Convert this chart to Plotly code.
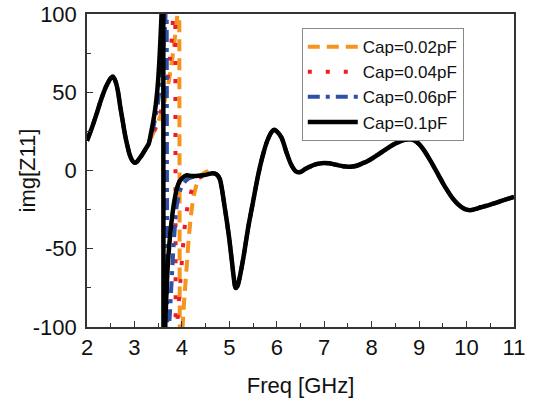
import plotly.graph_objects as go

# ---------------- data ----------------
# common part below the resonance (all four curves overlap)
freq_low = [2.0, 2.1, 2.2, 2.3, 2.4, 2.5, 2.55, 2.6, 2.65, 2.7, 2.75, 2.8, 2.85,
            2.9, 2.95, 3.0, 3.05, 3.1, 3.15, 3.2, 3.25]
img_low = [19, 27, 36, 45.5, 53.5, 59, 60, 57, 51, 41, 32, 23, 16,
           10, 6.5, 5, 5.5, 7.5, 9.5, 12, 14.5]

# common part above the resonance
freq_high = [4.65, 4.7, 4.75, 4.8, 4.85, 4.9, 4.95, 5.0, 5.05, 5.1, 5.13, 5.17, 5.22,
             5.3, 5.4, 5.5, 5.6, 5.7, 5.8, 5.9, 5.95, 6.0, 6.1, 6.2, 6.3, 6.4, 6.5,
             6.6, 6.7, 6.8, 6.9, 7.0, 7.1, 7.2, 7.3, 7.4, 7.5, 7.6, 7.7, 7.8, 7.9,
             8.0, 8.1, 8.2, 8.3, 8.4, 8.5, 8.6, 8.7, 8.8, 8.9, 9.0, 9.1, 9.2, 9.3,
             9.4, 9.5, 9.6, 9.7, 9.8, 9.9, 10.0, 10.1, 10.2, 10.3, 10.4, 10.5, 10.6,
             10.7, 10.8, 10.9, 11.0]
img_high = [-1.8, -2, -3, -5.5, -13, -23, -33, -44, -57, -70, -75, -74, -68,
            -55, -36, -20, -4, 9, 19, 25, 26, 25, 21, 12, 4, -0.5, -1,
            1, 2.5, 3.8, 4.5, 4.8, 4.6, 4, 3.3, 2.7, 2.4, 2.5, 3.2, 4.5, 5.8,
            7.5, 9.5, 11.5, 13.5, 15.5, 17.2, 18.6, 19.6, 20, 19.2, 16.8, 13, 8.2, 3,
            -2.5, -8, -13, -17.5, -21, -23.5, -25, -25.3, -24.5, -23.5, -22.7, -21.8, -20.8,
            -19.8, -18.8, -17.8, -16.8]

# resonance region, per capacitance
freq_002 = [3.3, 3.35, 3.4, 3.45, 3.5, 3.55, 3.6, 3.65, 3.7, 3.75, 3.8, 3.85, 3.9, 3.93,
            3.97, 4.0, 4.03, 4.06, 4.1, 4.14, 4.18, 4.22, 4.26, 4.3, 4.35, 4.4, 4.45,
            4.5, 4.55, 4.6]
img_002 = [17, 21, 24, 27, 31, 35, 40, 46, 53, 62, 72, 84, 98, 300,
           -300, -110, -92, -78, -62, -45, -32, -22, -15, -10, -6, -3.5, -2,
           -1, -0.5, 0]

freq_004 = [3.3, 3.35, 3.4, 3.45, 3.5, 3.55, 3.6, 3.65, 3.7, 3.75, 3.8, 3.83, 3.85,
            3.88, 3.9, 3.93, 3.97, 4.02, 4.07, 4.12, 4.17, 4.25, 4.35, 4.45, 4.55, 4.6]
img_004 = [17, 20, 24, 28, 32, 37, 43, 50, 59, 72, 90, 115, 300,
           -300, -100, -86, -70, -50, -33, -23, -16.5, -9, -5, -3.5, -2.5, -2]

freq_006 = [3.3, 3.35, 3.4, 3.45, 3.5, 3.55, 3.6, 3.65, 3.67, 3.7, 3.72, 3.75, 3.78,
            3.81, 3.85, 3.89, 3.95, 4.0, 4.07, 4.15, 4.25, 4.35, 4.45, 4.55, 4.6]
img_006 = [17.5, 22, 28, 35, 44, 58, 75, 95, 200, -200, -105, -90, -73,
           -56, -37, -23, -14, -10, -7, -5, -4, -3.5, -3, -2.5, -2]

freq_01 = [3.3, 3.35, 3.4, 3.45, 3.5, 3.55, 3.58, 3.6, 3.62, 3.64, 3.66, 3.7, 3.75,
           3.8, 3.85, 3.9, 3.95, 4.0, 4.1, 4.2, 4.3, 4.4, 4.5, 4.6]
img_01 = [17, 24, 32, 42, 58, 85, 110, 400, -400, -110, -90, -62, -42,
          -28, -18, -11, -7, -5, -3, -3.5, -3.5, -3.2, -2.8, -2]

series_names = ["Cap=0.02pF", "Cap=0.04pF", "Cap=0.06pF", "Cap=0.1pF"]
series_freq = [freq_002, freq_004, freq_006, freq_01]
series_img = [img_002, img_004, img_006, img_01]

x_ticks = [2, 3, 4, 5, 6, 7, 8, 9, 10, 11]
y_ticks = [-100, -50, 0, 50, 100]
y_tick_labels = ["-100", "-50", "0", "50", "100"]

# ---------------- styling ----------------
colors = ["#F7941D", "#EE1C25", "#2E50A8", "#000000"]
dashes = ["12px,7px", "4px,14px", "12px,6px,4px,6px", "solid"]
widths = [4, 4, 4, 4.5]

fig = go.Figure()
for name, fx, fy, c, d, w in zip(series_names, series_freq, series_img, colors, dashes, widths):
    fig.add_trace(go.Scatter(
        x=freq_low + fx + freq_high,
        y=img_low + fy + img_high,
        mode="lines",
        name=name,
        line=dict(color=c, width=w, dash=d, shape="spline", smoothing=0.8),
    ))

axis_common = dict(
    showline=True, linecolor="#333333", linewidth=1.5, mirror=True,
    ticks="inside", ticklen=6, tickwidth=1.2, tickcolor="#333333",
    showgrid=False, zeroline=False, automargin=False,
    tickfont=dict(family="Arial, Liberation Sans, sans-serif", size=22, color="#111111"),
)

fig.update_layout(
    width=533, height=404,
    margin=dict(l=87, r=19, t=14, b=77),
    paper_bgcolor="white", plot_bgcolor="white",
    font=dict(family="Arial, Liberation Sans, sans-serif", color="#111111"),
    xaxis=dict(range=[2, 11], tickvals=x_ticks,
               minor=dict(ticks="inside", ticklen=4, dtick=0.5, tickcolor="#333333"),
               title=dict(text="Freq [GHz]", font=dict(size=22), standoff=18),
               **axis_common),
    yaxis=dict(range=[-100, 100], tickvals=y_ticks, ticktext=y_tick_labels,
               ticklabelstandoff=4,
               minor=dict(ticks="inside", ticklen=4, dtick=25, tickcolor="#333333"),
               **axis_common),
    annotations=[dict(text="img[Z11]", textangle=-90, xref="paper", yref="paper",
                      x=-0.1405, y=0.5, xanchor="center", yanchor="middle",
                      showarrow=False, font=dict(size=22, color="#111111"))],
    legend=dict(x=0.503, y=0.955, xanchor="left", yanchor="top",
                bgcolor="white", bordercolor="#888888", borderwidth=1,
                font=dict(size=17, color="#111111"),
                itemwidth=50, tracegroupgap=0),
    showlegend=True,
)

fig.write_html("out.html", config={"displayModeBar": False},
               post_script="document.body.style.margin='0';")
